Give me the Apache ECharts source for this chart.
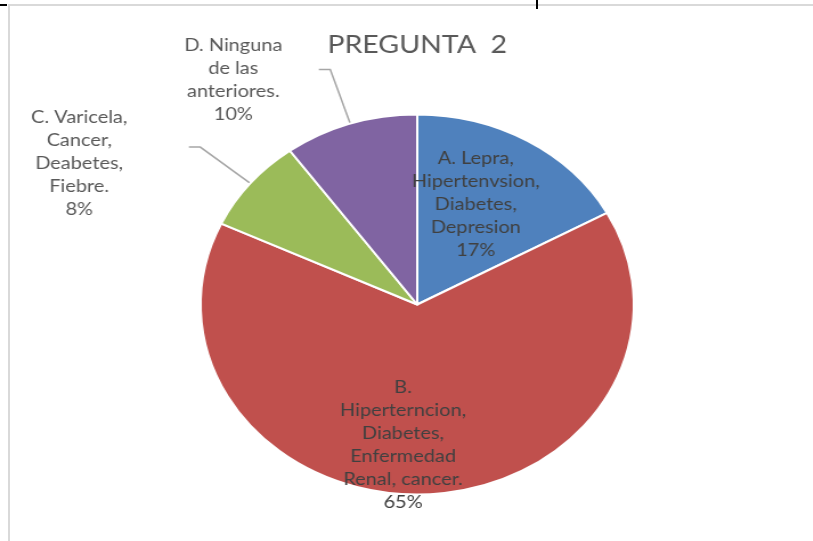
<!DOCTYPE html>
<html>
<head>
<meta charset="utf-8">
<script src="https://cdn.jsdelivr.net/npm/echarts@6/dist/echarts.min.js"></script>
<style>
  html, body { margin: 0; padding: 0; background: #fff; overflow: hidden; }
  #frame { position: absolute; left: 8px; top: 4px; width: 805px; height: 537px;
           border-top: 2px solid #d9d9d9; border-left: 2px solid #d9d9d9; box-sizing: border-box; }
  .tick { position: absolute; background: #000; }
  /* the reference pie is an ellipse, so the chart is drawn narrower and stretched */
  #chart { position: absolute; left: 0; top: 0; width: 713px; height: 541px;
           transform: scaleX(1.14); transform-origin: 0 0; }
</style>
</head>
<body>
<div id="frame"></div>
<div class="tick" style="left:0;top:4px;width:7px;height:2px"></div>
<div class="tick" style="left:536px;top:0;width:2px;height:9px"></div>
<div id="chart"></div>
<script>
var title = 'PREGUNTA  2';
var categories = [
    'A. Lepra,\nHipertenvsion,\nDiabetes,\nDepresion',
    'B.\nHiperterncion,\nDiabetes,\nEnfermedad\nRenal, cancer.',
    'C. Varicela,\nCancer,\nDeabetes,\nFiebre.',
    'D. Ninguna\nde las\nanteriores.'
];
var values = [17, 65, 8, 10];

var palette = ['#4F81BD', '#C0504D', '#9BBB59', '#8064A2'];
var font = 'Lato, "Open Sans", sans-serif';

// per slice label placement (inside for the big ones, outside with a leader for the small ones)
var labelStyles = [
    { position: 'inside', color: '#404040', padding: [0, 0, 31, 3] },
    { position: 'inside', color: '#404040', padding: [84, 31, 0, 0] },
    { position: 'outside', color: '#595959', padding: [32, 54, 0, 0] },
    { position: 'outside', color: '#595959', padding: [20, 32, 0, 0] }
];

var chart = echarts.init(document.getElementById('chart'));

chart.setOption({
    animation: false,
    title: {
        text: title,
        left: 361,
        top: 27,
        textAlign: 'center',
        textStyle: {
            fontFamily: font,
            fontSize: 25,
            fontWeight: 'normal',
            color: '#595959'
        }
    },
    series: [{
        type: 'pie',
        center: [366, 304.5],
        radius: 190,
        startAngle: 90,
        clockwise: true,
        percentPrecision: 0,
        avoidLabelOverlap: false,
        itemStyle: {
            borderColor: '#fff',
            borderWidth: 2
        },
        label: {
            distanceToLabelLine: 0,
            formatter: function (p) {
                return p.name.split('\n').concat(p.percent + '%').map(function (s) {
                    return '{t|' + s + '}';
                }).join('\n');
            },
            rich: {
                t: {
                    align: 'center',
                    fontFamily: font,
                    fontSize: 17.5,
                    lineHeight: 23
                }
            }
        },
        labelLine: {
            length: 57,
            length2: 10,
            lineStyle: {
                color: '#a6a6a6',
                width: 1.5
            }
        },
        emphasis: { disabled: true },
        data: values.map(function (v, i) {
            var ls = labelStyles[i];
            return {
                value: v,
                name: categories[i],
                itemStyle: { color: palette[i] },
                label: {
                    position: ls.position,
                    color: ls.color,
                    padding: ls.padding
                },
                labelLine: { show: ls.position === 'outside' }
            };
        })
    }]
});
</script>
</body>
</html>
